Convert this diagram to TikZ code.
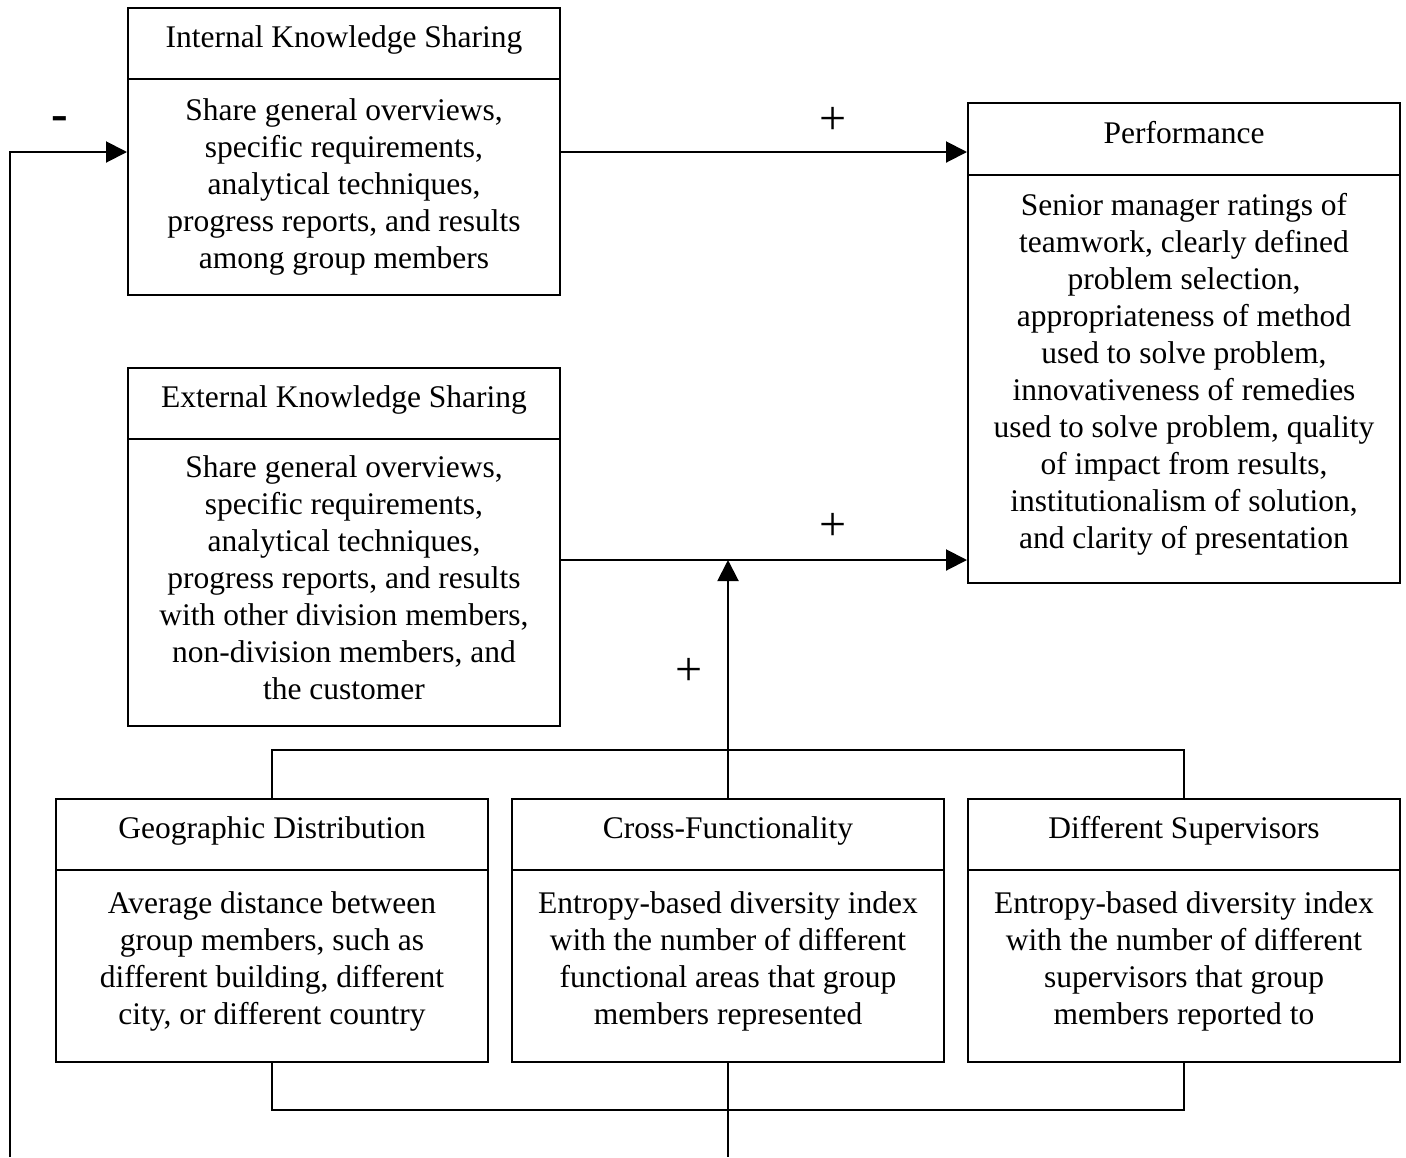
\documentclass[tikz,border=0pt]{standalone}
\usepackage{fontspec}
\setmainfont{Liberation Serif}
\usetikzlibrary{arrows.meta}
\begin{document}
\begin{tikzpicture}[x=1pt,y=-1pt,
  box/.style={draw, line width=2pt, minimum width=432pt, inner sep=0pt, align=center,
    text depth=14pt, font=\fontsize{31.5}{37}\selectfont},
  hdr/.style={box, minimum height=71pt},
  conn/.style={line width=2pt},
  arr/.style={conn, -{Triangle[length=21pt,width=21pt]}},
  sign/.style={inner sep=0pt, font=\fontsize{48}{48}\selectfont}
]
\useasboundingbox (0,0) rectangle (1406,1157);
% Internal
\node[hdr] (intT) at (344,43.5) {Internal Knowledge Sharing};
\node[box, minimum height=216pt, text depth=7pt] (intB) at (344,187) {Share general overviews,\\specific requirements,\\analytical techniques,\\progress reports, and results\\among group members};
% External
\node[hdr] (extT) at (344,403.5) {External Knowledge Sharing};
\node[box, minimum height=287pt, text depth=10pt] (extB) at (344,582.5) {Share general overviews,\\specific requirements,\\analytical techniques,\\progress reports, and results\\with other division members,\\non-division members, and\\the customer};
% Performance
\node[hdr, minimum height=72pt] (perfT) at (1184,139) {Performance};
\node[box, minimum height=408pt, text depth=17pt] (perfB) at (1184,379) {Senior manager ratings of\\teamwork, clearly defined\\problem selection,\\appropriateness of method\\used to solve problem,\\innovativeness of remedies\\used to solve problem, quality\\of impact from results,\\institutionalism of solution,\\and clarity of presentation};
% Bottom row
\node[hdr] (geoT) at (272,834.5) {Geographic Distribution};
\node[box, minimum height=192pt, text depth=16pt] (geoB) at (272,966) {Average distance between\\group members, such as\\different building, different\\city, or different country};
\node[hdr] (croT) at (728,834.5) {Cross-Functionality};
\node[box, minimum height=192pt, text depth=16pt] (croB) at (728,966) {Entropy-based diversity index\\with the number of different\\functional areas that group\\members represented};
\node[hdr] (difT) at (1184,834.5) {Different Supervisors};
\node[box, minimum height=192pt, text depth=16pt] (difB) at (1184,966) {Entropy-based diversity index\\with the number of different\\supervisors that group\\members reported to};
% connectors
\coordinate (fb) at (10,1157);
\coordinate (cb) at (728,1157);
\draw[arr] (fb) -- (fb |- 0,152) -- (intB.west |- 0,152);
\draw[arr] (intB.east |- 0,152) -- (perfT.west |- 0,152);
\draw[arr] (extB.east |- 0,560) -- (perfB.west |- 0,560);
\draw[arr] (croT.north) -- (croT.north |- 0,560);
\draw[conn] (geoT.north) -- (geoT.north |- 0,750) -- (difT.north |- 0,750) -- (difT.north);
\draw[conn] (geoB.south) -- (geoB.south |- 0,1110) -- (difB.south |- 0,1110) -- (difB.south);
\draw[conn] (croB.south) -- (cb);
% signs
\node[sign] (p1) at (833,121) {+};
\node[sign] (p2) at (833,527) {+};
\node[sign] (p3) at (689,672) {+};
\node[inner sep=0pt, font=\fontsize{50}{50}\selectfont\bfseries] (m1) at (60,124) {-};
\end{tikzpicture}
\end{document}
